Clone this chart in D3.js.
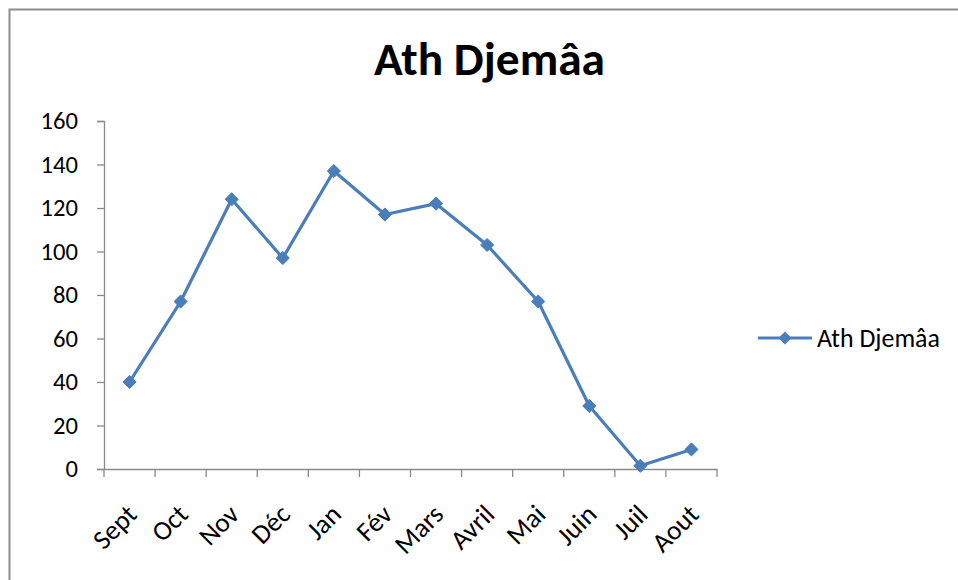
<!DOCTYPE html>
<html><head><meta charset="utf-8">
<script src="https://cdn.jsdelivr.net/npm/d3@7"></script>
<style>body{margin:0;background:#fff}svg{display:block}</style>
</head><body>
<script>
const categories = ["Sept","Oct","Nov","Déc","Jan","Fév","Mars","Avril","Mai","Juin","Juil","Aout"];
const values = [40, 77, 124, 97, 137, 117, 122, 103, 77, 29, 1.5, 9];
const yTicks = [0,20,40,60,80,100,120,140,160];
const seriesName = "Ath Djemâa";
const title = "Ath Djemâa";

const W = 958, H = 580;
const font = "Carlito, Calibri, Lato, sans-serif";
const svg = d3.select("body").append("svg").attr("width", W).attr("height", H);
svg.append("rect").attr("width", W).attr("height", H).attr("fill", "#fff");
// frame (only top and left visible)
svg.append("path").attr("d", `M9.5,${H}V9.5H${W}`).attr("fill", "none")
  .attr("stroke", "#8c8c8c").attr("stroke-width", 2);

function fit(sel, base, target) {
  sel.attr("font-size", base);
  const w = sel.node().getComputedTextLength();
  return base * target / w;
}

const x = d3.scaleBand().domain(categories).range([104, 717]);
const y = d3.scaleLinear().domain([0, 160]).range([469, 121]);
const axisColor = "#8a8a8a";

// measure tick font size
const probe = svg.append("text").attr("font-family", font).text("160");
const tickFS = fit(probe, 20, 37.5);
probe.remove();

// y axis
const ya = svg.append("g").attr("transform", "translate(104,0)")
  .call(d3.axisLeft(y).tickValues(yTicks).tickSize(7).tickPadding(19));
ya.select(".domain").attr("stroke", axisColor).attr("stroke-width", 1.3);
ya.selectAll(".tick line").attr("stroke", axisColor).attr("stroke-width", 1.3);
ya.selectAll("text").attr("font-family", font).attr("font-size", tickFS).attr("fill", "#000");

// x axis
const xa = svg.append("g").attr("transform", "translate(0,469)")
  .call(d3.axisBottom(x).tickSize(0).tickFormat(""));
xa.select(".domain").attr("stroke", axisColor).attr("stroke-width", 1.3);
xa.selectAll(".tick").remove();
const tickPos = categories.map(c => x(c)).concat([x.range()[1]]);
svg.append("g").selectAll("line").data(tickPos).join("line")
  .attr("x1", d => d).attr("x2", d => d).attr("y1", 469).attr("y2", 477)
  .attr("stroke", axisColor).attr("stroke-width", 1.3);
svg.append("g").selectAll("text").data(categories).join("text")
  .attr("transform", d => `translate(${x(d) + x.bandwidth()/2 + 9},${516}) rotate(-45)`)
  .attr("text-anchor", "end")
  .attr("font-family", font).attr("font-size", tickFS * 1.1).attr("fill", "#000").text(d => d);

// line
const color = "#4a7ebb";
const line = d3.line().x((d, i) => x(categories[i]) + x.bandwidth()/2).y(d => y(d));
svg.append("path").datum(values).attr("d", line).attr("fill", "none")
  .attr("stroke", color).attr("stroke-width", 3.2).attr("stroke-linejoin", "round");
const diamond = d3.symbol().type(d3.symbolDiamond2).size(110);
svg.append("g").selectAll("path").data(values).join("path")
  .attr("transform", (d, i) => `translate(${x(categories[i]) + x.bandwidth()/2},${y(d)})`)
  .attr("d", diamond).attr("fill", color).attr("stroke", color).attr("stroke-width", 1);

// title
const t = svg.append("text").attr("x", 489.5).attr("y", 75).attr("text-anchor", "middle")
  .attr("font-family", font).attr("font-weight", "bold").attr("fill", "#000").text(title);
t.attr("font-size", fit(t, 40, 231));

// legend
svg.append("line").attr("x1", 758).attr("x2", 812).attr("y1", 338).attr("y2", 338)
  .attr("stroke", color).attr("stroke-width", 3.2);
svg.append("path").attr("transform", "translate(785,338)").attr("d", diamond).attr("fill", color);
const lt = svg.append("text").attr("x", 817).attr("y", 338).attr("dominant-baseline", "central")
  .attr("font-family", font).attr("fill", "#000").text(seriesName);
lt.attr("font-size", fit(lt, 20, 123));
</script>
</body></html>
